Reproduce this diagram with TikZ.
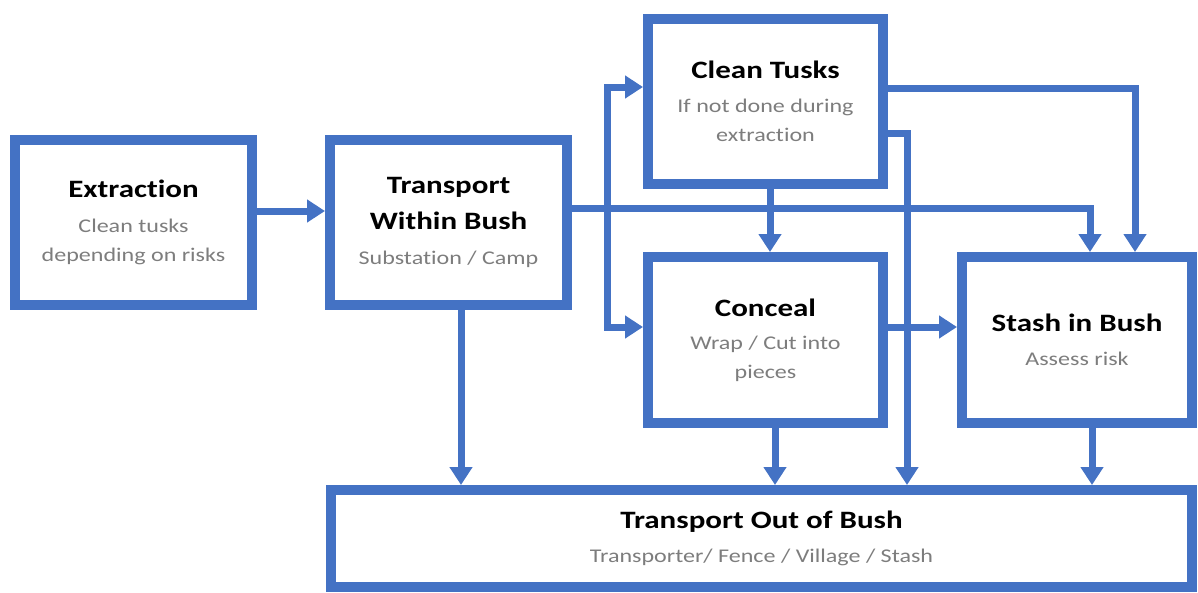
\documentclass[tikz,border=0pt]{standalone}
\usepackage{fontspec}
\setmainfont{Carlito}
\newfontfamily\boxfont[FakeStretch=1.24,Ligatures=NoCommon]{Carlito}
\usetikzlibrary{arrows.meta}

\definecolor{flowblue}{RGB}{68,114,196}
\definecolor{notegray}{RGB}{125,125,125}

\newcommand\boxtitle{\boxfont\bfseries\fontsize{25}{29}\selectfont\color{black}}
\newcommand\boxnote{\boxfont\fontsize{19.4}{29}\selectfont\color{notegray}}

\tikzset{
  stagebox/.style={draw=flowblue, line width=10pt, fill=white, inner sep=0pt,
    align=center, font=\boxnote},
  flow/.style={draw=flowblue, line width=7pt,
    -{Triangle[width=22pt,length=18pt]}},
}

\begin{document}
\begin{tikzpicture}[x=1pt,y=-1pt]
\useasboundingbox (0,0) rectangle (1198,592);

% process stages
\node[stagebox, minimum width=237pt, minimum height=165pt] (ext) at (133.5,222)
  {{\boxtitle Extraction}\\[6pt]Clean tusks\\depending on risks};
\node[stagebox, minimum width=237pt, minimum height=165pt] (tw) at (448.5,222)
  {{\boxtitle Transport}\\[7pt]{\boxtitle Within Bush}\\[6pt]Substation / Camp};
\node[stagebox, minimum width=235pt, minimum height=165pt] (ct) at (765.5,101)
  {{\boxtitle Clean Tusks}\\[5pt]If not done during\\extraction};
\node[stagebox, minimum width=235pt, minimum height=166pt] (con) at (765.5,340)
  {{\boxtitle Conceal}\\[4pt]Wrap / Cut into\\pieces};
\node[stagebox, minimum width=230pt, minimum height=166pt] (st) at (1077,340)
  {{\boxtitle Stash in Bush}\\[5pt]Assess risk};
\node[stagebox, minimum width=861pt, minimum height=97pt] (to) at (761.5,538.5)
  {{\boxtitle Transport Out of Bush}\\[5pt]Transporter/ Fence / Village / Stash};

% routing points of the connectors
\coordinate (split) at (607,208);
\coordinate (ctin)  at (0,87);
\coordinate (conin) at (0,327);
\coordinate (stA)   at (1090,0);
\coordinate (ctB)   at (1135,88);
\coordinate (ctC)   at (907,133);
\coordinate (colCT) at (770,0);
\coordinate (colTW) at (461,0);
\coordinate (colCon) at (775,0);
\coordinate (colSt) at (1092,0);

% connectors
\draw[flow] ([yshift=11pt]ext.east) -- ([yshift=11pt]tw.west);
\draw[flow] (tw.east |- split) -| (stA |- st.north);
\draw[flow] (split) |- (ct.west |- ctin);
\draw[flow] (split) |- (con.west |- conin);
\draw[flow] (ct.east |- ctB) -| (ctB |- st.north);
\draw[flow] (ct.east |- ctC) -| (ctC |- to.north);
\draw[flow] (con.east |- conin) -- (st.west |- conin);
\draw[flow] (colCT |- ct.south) -- (colCT |- con.north);
\draw[flow] (colTW |- tw.south) -- (colTW |- to.north);
\draw[flow] (colCon |- con.south) -- (colCon |- to.north);
\draw[flow] (colSt |- st.south) -- (colSt |- to.north);
\end{tikzpicture}
\end{document}
